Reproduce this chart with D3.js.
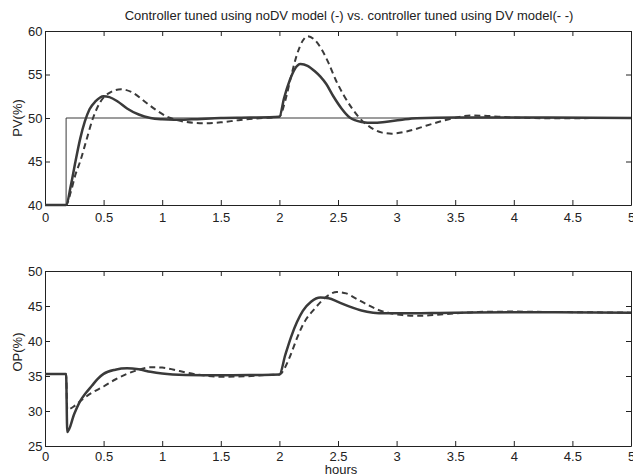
<!DOCTYPE html>
<html>
<head>
<meta charset="utf-8">
<script src="https://cdn.jsdelivr.net/npm/d3@7"></script>
<style>
  body { margin: 0; background: #fff; }
  svg text { font-family: "Liberation Sans", Arial, Helvetica, sans-serif; fill: #222; }
</style>
</head>
<body>
<svg id="chart" width="633" height="475"></svg>
<script>
const width = 633;
const height = 475;

// x axis ticks (hours)
const xTicks = [0, 0.5, 1, 1.5, 2, 2.5, 3, 3.5, 4, 4.5, 5];
const pvTicks = [40, 45, 50, 55, 60];
const opTicks = [25, 30, 35, 40, 45, 50];

// PV setpoint
const pvSetpoint = [[0, 40], [0.18, 40], [0.18, 50], [5, 50]];

// PV, controller tuned using noDV model (solid)
const pvNoDV = [
  [0, 40], [0.18, 40], [0.22, 42.2], [0.26, 45], [0.3, 47.6], [0.34, 49.6], [0.38, 51],
  [0.43, 51.9], [0.5, 52.5], [0.55, 52.4], [0.62, 51.9], [0.7, 51.1], [0.8, 50.4],
  [0.9, 50], [1.0, 49.85], [1.1, 49.8], [1.25, 49.85], [1.5, 50], [1.75, 50.05],
  [2.0, 50.15], [2.04, 52.3], [2.09, 54.4], [2.13, 55.6], [2.18, 56.2], [2.24, 56.0],
  [2.3, 55.4], [2.35, 54.75], [2.4, 53.9], [2.46, 52.5], [2.53, 51.1], [2.6, 50.05],
  [2.7, 49.55], [2.8, 49.45], [2.9, 49.55], [3.03, 49.77], [3.17, 49.98], [3.5, 50.05],
  [4, 50.05], [5, 50]
];

// PV, controller tuned using DV model (dashed)
const pvDV = [
  [0, 40], [0.18, 40], [0.22, 41.5], [0.26, 43.5], [0.3, 45], [0.35, 47.3], [0.41, 50],
  [0.47, 51.8], [0.55, 52.9], [0.65, 53.3], [0.75, 52.9], [0.85, 51.9], [0.95, 50.9],
  [1.05, 50.1], [1.12, 49.8], [1.2, 49.55], [1.35, 49.4], [1.5, 49.5], [1.65, 49.75],
  [1.8, 49.95], [2.0, 50.15], [2.05, 52], [2.1, 54.8], [2.15, 57.3], [2.2, 58.9],
  [2.24, 59.4], [2.3, 59.0], [2.36, 57.9], [2.42, 56.3], [2.48, 54.4], [2.55, 52.6],
  [2.62, 51.1], [2.69, 49.9], [2.78, 48.9], [2.87, 48.35], [2.96, 48.2], [3.1, 48.5],
  [3.25, 49.1], [3.4, 49.7], [3.51, 50.05], [3.63, 50.3], [3.75, 50.25], [4.0, 50.05],
  [4.3, 49.98], [5, 50]
];

// OP, noDV tuning (solid)
const opNoDV = [
  [0, 35.3], [0.18, 35.3], [0.19, 27], [0.25, 29.6], [0.3, 31.4], [0.35, 32.6],
  [0.4, 33.6], [0.45, 34.6], [0.5, 35.3], [0.6, 35.9], [0.7, 36.1], [0.8, 35.95],
  [0.9, 35.6], [1.0, 35.35], [1.2, 35.15], [1.5, 35.1], [1.8, 35.15], [2.0, 35.2],
  [2.05, 38], [2.1, 40.6], [2.15, 42.7], [2.2, 44.3], [2.27, 45.6], [2.35, 46.2],
  [2.42, 46.1], [2.5, 45.6], [2.6, 44.9], [2.7, 44.35], [2.8, 44.05], [2.9, 43.95],
  [3.0, 43.95], [3.5, 44.05], [4, 44.1], [5, 44.05]
];

// OP, DV tuning (dashed)
const opDV = [
  [0, 35.3], [0.18, 35.3], [0.19, 30.2], [0.25, 30.7], [0.3, 31.4], [0.4, 32.6],
  [0.5, 33.5], [0.6, 34.5], [0.7, 35.3], [0.8, 35.9], [0.9, 36.25], [1.0, 36.2],
  [1.1, 35.9], [1.2, 35.5], [1.35, 35.1], [1.5, 34.9], [1.7, 34.95], [1.9, 35.15],
  [2.0, 35.2], [2.05, 36.3], [2.1, 38.2], [2.15, 40.4], [2.2, 42.3], [2.3, 44.6],
  [2.4, 46.3], [2.49, 47.0], [2.57, 46.8], [2.65, 46.1], [2.75, 45.2], [2.85, 44.4],
  [2.94, 44.0], [3.05, 43.7], [3.2, 43.6], [3.35, 43.75], [3.5, 43.95], [3.7, 44.15],
  [4.0, 44.2], [4.3, 44.15], [5, 44.05]
];

const svg = d3.select("#chart");
const lineColor = "#3a3a3a";
const fontSize = "13px";

const x = d3.scaleLinear().domain([0, 5]).range([45, 631]);

function drawPanel(yDomain, yRange, yTicks, yLabel, labelY, xPad, series) {
  const y = d3.scaleLinear().domain(yDomain).range(yRange);
  const g = svg.append("g");
  const top = yRange[1], bottom = yRange[0];

  // box axes, ticks pointing inward like matlab
  const axes = [
    [d3.axisBottom(x).tickValues(xTicks).tickFormat(d => d), `translate(0,${bottom})`, xPad],
    [d3.axisTop(x).tickValues(xTicks).tickFormat(""), `translate(0,${top})`, 3],
    [d3.axisLeft(y).tickValues(yTicks).tickFormat(d => d), `translate(45,0)`, 2.5],
    [d3.axisRight(y).tickValues(yTicks).tickFormat(""), `translate(631,0)`, 3]
  ];
  axes.forEach(([ax, tr, pad]) => {
    const a = g.append("g").attr("transform", tr)
      .call(ax.tickSizeInner(-5).tickSizeOuter(0).tickPadding(pad));
    a.select(".domain").attr("stroke", "#222");
    a.selectAll(".tick line").attr("stroke", "#222");
    a.selectAll("text").style("font-size", fontSize).attr("fill", "#222");
  });

  const line = d3.line()
    .x(d => x(d[0]))
    .y(d => y(d[1]));

  series.forEach(s => {
    g.append("path")
      .datum(s.data)
      .attr("fill", "none")
      .attr("stroke", lineColor)
      .attr("stroke-width", s.width)
      .attr("stroke-dasharray", s.dash || null)
      .attr("d", line.curve(s.smooth ? d3.curveMonotoneX : d3.curveLinear));
  });

  svg.append("text")
    .attr("transform", `translate(22,${labelY}) rotate(-90)`)
    .attr("text-anchor", "middle")
    .style("font-size", fontSize)
    .text(yLabel);
}

drawPanel([40, 60], [205, 31], pvTicks, "PV(%)", 118, 7.5, [
  { data: pvSetpoint, width: 1, smooth: false },
  { data: pvDV, width: 2, dash: "6,4", smooth: true },
  { data: pvNoDV, width: 2.5, smooth: true }
]);

drawPanel([25, 50], [446, 271], opTicks, "OP(%)", 352, 6, [
  { data: opDV, width: 2, dash: "6,4", smooth: true },
  { data: opNoDV, width: 2.5, smooth: true }
]);

svg.append("text")
  .attr("x", 349)
  .attr("y", 20)
  .attr("text-anchor", "middle")
  .style("font-size", fontSize)
  .text("Controller tuned using noDV model (-) vs. controller tuned using DV model(- -)");

svg.append("text")
  .attr("x", 341)
  .attr("y", 474)
  .attr("text-anchor", "middle")
  .style("font-size", fontSize)
  .text("hours");
</script>
</body>
</html>
